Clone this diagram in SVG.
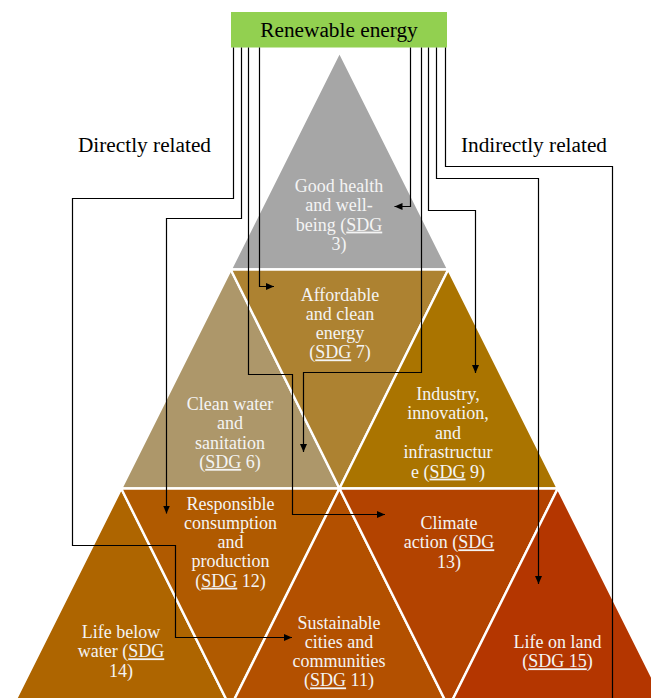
<svg xmlns="http://www.w3.org/2000/svg" width="651" height="698" viewBox="0 0 651 698">
<style>
.tri{stroke:#ffffff;stroke-width:2.4;stroke-linejoin:round}
.lbl{font-family:"Liberation Serif","Times New Roman",serif;font-size:18px;fill:#f4f4f4;text-anchor:middle}
.hdr{font-family:"Liberation Serif","Times New Roman",serif;font-size:21.3px;fill:#000000;text-anchor:middle}
.u{text-decoration:underline}
.con{fill:none;stroke:#000000;stroke-width:1.2}
</style>
<defs>
<marker id="arr" markerUnits="userSpaceOnUse" markerWidth="9" markerHeight="8" refX="8" refY="3.5" orient="auto">
<path d="M0,0 L8,3.5 L0,7 z" fill="#000000"/>
</marker>
</defs>
<rect width="651" height="698" fill="#ffffff"/>

<g id="renewable-energy">
<rect x="231" y="12" width="216" height="35.5" fill="#92d050"/>
<text class="hdr" x="339" y="37">Renewable energy</text>
</g>

<g id="directly-related"><text class="hdr" x="144.5" y="152">Directly related</text></g>
<g id="indirectly-related"><text class="hdr" x="534" y="152">Indirectly related</text></g>

<g id="sdg3">
<polygon class="tri" points="339.5,52 230.75,269.5 448.25,269.5" fill="#a6a6a6"/>
<text class="lbl" x="339" y="192">Good health</text>
<text class="lbl" x="339" y="211.3">and well-</text>
<text class="lbl" x="339" y="230.6">being (<tspan class="u">SDG</tspan></text>
<text class="lbl" x="339" y="249.9">3)</text>
</g>

<g id="sdg6">
<polygon class="tri" points="230.75,269.5 121.25,488.5 339.5,488.5" fill="#ad976a"/>
<text class="lbl" x="230" y="410">Clean water</text>
<text class="lbl" x="230" y="429.3">and</text>
<text class="lbl" x="230" y="448.6">sanitation</text>
<text class="lbl" x="230" y="467.9">(<tspan class="u">SDG</tspan> 6)</text>
</g>

<g id="sdg7">
<polygon class="tri" points="230.75,269.5 448.25,269.5 339.5,488.5" fill="#ad8231"/>
<text class="lbl" x="340" y="300.5">Affordable</text>
<text class="lbl" x="340" y="319.8">and clean</text>
<text class="lbl" x="340" y="339.1">energy</text>
<text class="lbl" x="340" y="358.4">(<tspan class="u">SDG</tspan> 7)</text>
</g>

<g id="sdg9">
<polygon class="tri" points="448.25,269.5 339.5,488.5 557.75,488.5" fill="#aa7400"/>
<text class="lbl" x="448" y="400">Industry,</text>
<text class="lbl" x="448" y="419.4">innovation,</text>
<text class="lbl" x="448" y="438.8">and</text>
<text class="lbl" x="448" y="458.2">infrastructur</text>
<text class="lbl" x="448" y="477.6">e (<tspan class="u">SDG</tspan> 9)</text>
</g>

<g id="sdg14">
<polygon class="tri" points="121.25,488.5 11.75,707.5 230.3,707.5" fill="#ae6500"/>
<text class="lbl" x="121" y="638">Life below</text>
<text class="lbl" x="121" y="657.3">water (<tspan class="u">SDG</tspan></text>
<text class="lbl" x="121" y="676.6">14)</text>
</g>

<g id="sdg12">
<polygon class="tri" points="121.25,488.5 339.5,488.5 230.3,707.5" fill="#b05a00"/>
<text class="lbl" x="230.5" y="509.5">Responsible</text>
<text class="lbl" x="230.5" y="528.8">consumption</text>
<text class="lbl" x="230.5" y="548.1">and</text>
<text class="lbl" x="230.5" y="567.4">production</text>
<text class="lbl" x="230.5" y="586.7">(<tspan class="u">SDG</tspan> 12)</text>
</g>

<g id="sdg11">
<polygon class="tri" points="339.5,488.5 230.3,707.5 448.7,707.5" fill="#b35000"/>
<text class="lbl" x="339" y="628.5">Sustainable</text>
<text class="lbl" x="339" y="647.8">cities and</text>
<text class="lbl" x="339" y="667.1">communities</text>
<text class="lbl" x="339" y="686.4">(<tspan class="u">SDG</tspan> 11)</text>
</g>

<g id="sdg13">
<polygon class="tri" points="339.5,488.5 557.75,488.5 448.7,707.5" fill="#b34300"/>
<text class="lbl" x="449" y="529">Climate</text>
<text class="lbl" x="449" y="548.3">action (<tspan class="u">SDG</tspan></text>
<text class="lbl" x="449" y="567.6">13)</text>
</g>

<g id="sdg15">
<polygon class="tri" points="557.75,488.5 448.7,707.5 667.25,707.5" fill="#b43600"/>
<text class="lbl" x="557.5" y="648">Life on land</text>
<text class="lbl" x="557.5" y="667.3">(<tspan class="u">SDG 15</tspan>)</text>
</g>

<g id="connectors">
<path class="con" d="M233.5,47.5 V198.5 H72.5 V545.5 H175.5 V637.5 H292" marker-end="url(#arr)"/>
<path class="con" d="M241.5,47.5 V218.5 H166.5 V513.5" marker-end="url(#arr)"/>
<path class="con" d="M248.5,47.5 V374.5 H292.5 V514.5 H385" marker-end="url(#arr)"/>
<path class="con" d="M259.5,47.5 V286.5 H274" marker-end="url(#arr)"/>
<path class="con" d="M410.5,47.5 V206.5 H394.5" marker-end="url(#arr)"/>
<path class="con" d="M421.5,47.5 V372.5 H303.5 V452" marker-end="url(#arr)"/>
<path class="con" d="M428.5,47.5 V210.5 H475.5 V373" marker-end="url(#arr)"/>
<path class="con" d="M436.5,47.5 V178.5 H538.5 V584" marker-end="url(#arr)"/>
<path class="con" d="M445.5,47.5 V166.5 H612.5 V705"/>
<path class="con" d="M160,701.5 H140.5" marker-end="url(#arr)"/>
</g>
</svg>
